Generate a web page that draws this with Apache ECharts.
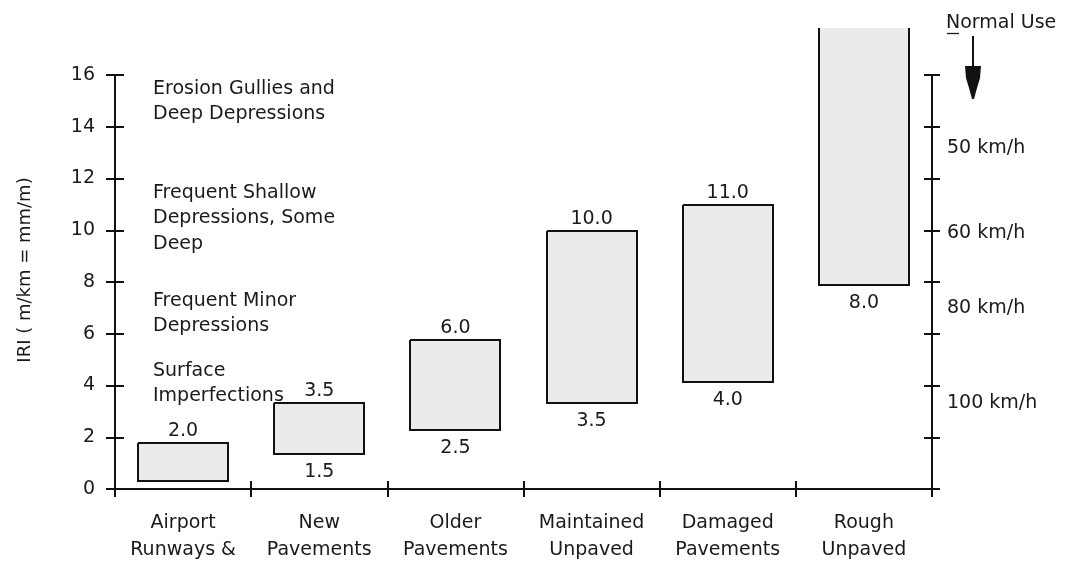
<!DOCTYPE html>
<html><head><meta charset="utf-8">
<script src="https://cdn.jsdelivr.net/npm/echarts@6/dist/echarts.min.js"></script>
<style>html,body{margin:0;padding:0;background:#fff}#c{width:1070px;height:564px}</style>
</head><body><div id="c"></div>
<script>
// ---- data ----
const categories = ['Airport\nRunways &', 'New\nPavements', 'Older\nPavements', 'Maintained\nUnpaved', 'Damaged\nPavements', 'Rough\nUnpaved'];
const rangeLow  = [0.32, 1.35, 2.28, 3.34, 4.15, 7.89];
const rangeHigh = [1.79, 3.33, 5.76, 9.99, 10.96, 17.8];
const topLabels    = ['2.0', '3.5', '6.0', '10.0', '11.0', ''];
const bottomLabels = ['', '1.5', '2.5', '3.5', '4.0', '8.0'];
const yMin = 0, yMax = 16, yInterval = 2;
const yAxisTitle = 'IRI ( m/km = mm/m)';
const roughnessNotes = ['Erosion Gullies and\nDeep Depressions', 'Frequent Shallow\nDepressions, Some\nDeep', 'Frequent Minor\nDepressions', 'Surface\nImperfections'];
const speedLabels = ['50 km/h', '60 km/h', '80 km/h', '100 km/h'];
const arrowTitle = 'Normal Use';

// ---- styling ----
const FONT = 'DejaVu Sans';
const FS = 19;
const TXT = '#1a1a1a';
const LINE = '#111';

const chart = echarts.init(document.getElementById('c'), null, {renderer: 'canvas'});

function renderItem(params, api) {
  const i = api.value(0);
  const lowV = api.value(1), highV = api.value(2);
  const lo = api.coord([i, lowV]);
  const hi = api.coord([i, highV]);
  const w = api.size([1, 0])[0] * 0.66;
  const x0 = Math.round(lo[0] - w / 2), x1 = Math.round(lo[0] + w / 2);
  const yTop = Math.round(hi[1]), yBot = Math.round(lo[1]);
  const openTop = highV > yMax;
  const pts = openTop
    ? [[x0, yTop], [x0, yBot], [x1, yBot], [x1, yTop]]
    : [[x0, yTop], [x0, yBot], [x1, yBot], [x1, yTop], [x0, yTop]];
  const children = [
    {type: 'rect', shape: {x: x0, y: yTop, width: x1 - x0, height: yBot - yTop}, style: {fill: '#ebebeb'}, silent: true},
    {type: 'polyline', shape: {points: pts}, style: {stroke: LINE, lineWidth: 2, fill: null}, silent: true}
  ];
  const tl = topLabels[params.dataIndex];
  if (tl) children.push({type: 'text', x: lo[0], y: yTop - 12,
    style: {text: tl, fill: TXT, font: FS + 'px "' + FONT + '"', align: 'center', verticalAlign: 'middle'}});
  const bl = bottomLabels[params.dataIndex];
  if (bl) children.push({type: 'text', x: lo[0], y: yBot + 18,
    style: {text: bl, fill: TXT, font: FS + 'px "' + FONT + '"', align: 'center', verticalAlign: 'middle'}});
  return {type: 'group', children};
}

const seriesData = categories.map((c, i) => [i, rangeLow[i], rangeHigh[i]]);

const txtStyle = (t) => ({text: t, fill: TXT, font: FS + 'px "' + FONT + '"', lineHeight: 25.5, verticalAlign: 'top'});

const noteTops = [76, 180, 288, 358];
const speedCenters = [150, 235, 310, 405];

const graphics = [];
roughnessNotes.forEach((t, k) => graphics.push({type: 'text', left: 153, top: noteTops[k], style: txtStyle(t), z: 10}));
speedLabels.forEach((t, k) => graphics.push({type: 'text', left: 947, top: speedCenters[k] - 11, style: {text: t, fill: TXT, font: FS + 'px "' + FONT + '"'}, z: 10}));
graphics.push({type: 'text', left: 946, top: 14, style: {text: arrowTitle, fill: TXT, font: FS + 'px "' + FONT + '"'}, z: 10});
graphics.push({type: 'line', shape: {x1: 947, y1: 33.5, x2: 959, y2: 33.5}, style: {stroke: TXT, lineWidth: 1.3}, z: 10});
graphics.push({type: 'line', shape: {x1: 973, y1: 36, x2: 973, y2: 70}, style: {stroke: LINE, lineWidth: 2}, z: 10});
graphics.push({type: 'polygon', shape: {points: [[965, 66], [981, 66], [980, 78], [977, 88], [974, 99], [972, 99], [969, 88], [966, 78]]}, style: {fill: LINE}, z: 10});
graphics.push({type: 'text', x: 25, y: 270, rotation: Math.PI / 2,
  style: {text: yAxisTitle, fill: TXT, font: '18px "' + FONT + '"', align: 'center', verticalAlign: 'middle'}, z: 10});

const axisLine = {show: true, lineStyle: {color: LINE, width: 2}};
const tickLine = {color: LINE, width: 2};

const option = {
  animation: false,
  backgroundColor: '#fff',
  grid: {left: 115, right: 138, top: 75, bottom: 75, containLabel: false},
  xAxis: [
    {type: 'category', data: categories, position: 'bottom', boundaryGap: true,
     axisLine: axisLine,
     axisTick: {show: true, inside: false, length: 8, lineStyle: tickLine},
     axisLabel: {show: true, margin: 21, color: TXT, fontFamily: FONT, fontSize: FS, lineHeight: 27, interval: 0},
     splitLine: {show: false}},
    {type: 'category', data: categories, position: 'bottom', boundaryGap: true,
     axisLine: {show: false},
     axisTick: {show: true, inside: true, length: 8, lineStyle: tickLine},
     axisLabel: {show: false}, splitLine: {show: false}}
  ],
  yAxis: [
    {type: 'value', min: yMin, max: yMax, interval: yInterval, position: 'left',
     axisLine: axisLine,
     axisTick: {show: true, inside: false, length: 9, lineStyle: tickLine},
     axisLabel: {show: true, margin: 20, color: TXT, fontFamily: FONT, fontSize: FS},
     splitLine: {show: false}},
    {type: 'value', min: yMin, max: yMax, interval: yInterval, position: 'left',
     axisLine: {show: false},
     axisTick: {show: true, inside: true, length: 9, lineStyle: tickLine},
     axisLabel: {show: false}, splitLine: {show: false}},
    {type: 'value', min: yMin, max: yMax, interval: yInterval, position: 'right',
     axisLine: axisLine,
     axisTick: {show: true, inside: false, length: 8, lineStyle: tickLine},
     axisLabel: {show: false}, splitLine: {show: false}},
    {type: 'value', min: yMin, max: yMax, interval: yInterval, position: 'right',
     axisLine: {show: false},
     axisTick: {show: true, inside: true, length: 8, lineStyle: tickLine},
     axisLabel: {show: false}, splitLine: {show: false}}
  ],
  series: [{
    type: 'custom',
    xAxisIndex: 0, yAxisIndex: 0,
    clip: false,
    renderItem: renderItem,
    encode: {x: 0, y: [1, 2]},
    data: seriesData,
    silent: true
  }],
  graphic: graphics
};
chart.setOption(option);
</script>
</body></html>
